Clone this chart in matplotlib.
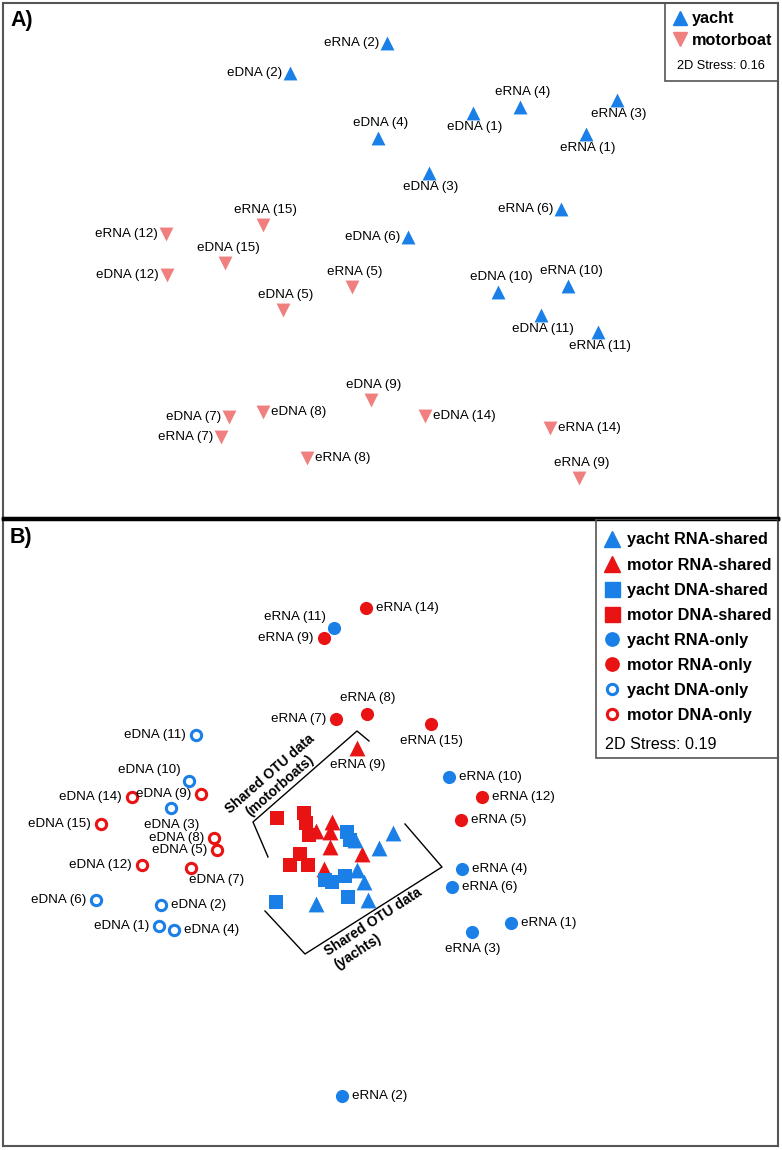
import matplotlib
matplotlib.use('Agg')
import matplotlib.pyplot as plt
from matplotlib.lines import Line2D
from matplotlib.patches import Rectangle

plt.rcParams['font.family'] = ['Liberation Sans', 'DejaVu Sans']

BLUE = '#1a80e8'
PINK = '#f08080'
RED = '#ea1313'
EDGE = '#555555'

## Panel A - ordination positions (pixel units, y down)
a_yacht_lab = ['eRNA (2)', 'eDNA (2)', 'eDNA (4)', 'eDNA (1)', 'eRNA (4)', 'eRNA (3)', 'eRNA (1)',
               'eDNA (3)', 'eRNA (6)', 'eDNA (6)', 'eDNA (10)', 'eRNA (10)', 'eDNA (11)', 'eRNA (11)']
a_yacht_x = [387, 290, 378, 473, 520, 617, 586, 429, 561, 408, 498, 568, 541, 598]
a_yacht_y = [43, 73, 138, 113, 107, 100, 134, 173, 209, 237, 292, 286, 315, 332]
a_yacht_side = ['l', 'l', 't', 'b', 't', 'b', 'b', 'b', 'l', 'l', 't', 't', 'b', 'b']

a_motor_lab = ['eRNA (15)', 'eRNA (12)', 'eDNA (15)', 'eDNA (12)', 'eRNA (5)', 'eDNA (5)', 'eDNA (9)',
               'eDNA (7)', 'eDNA (8)', 'eRNA (7)', 'eRNA (8)', 'eDNA (14)', 'eRNA (14)', 'eRNA (9)']
a_motor_x = [263, 166, 225, 167, 352, 283, 371, 229, 263, 221, 307, 425, 550, 579]
a_motor_y = [225, 234, 263, 275, 287, 310, 400, 417, 412, 437, 458, 416, 428, 478]
a_motor_side = ['t', 'l', 't', 'l', 't', 't', 't', 'l', 'r', 'l', 'r', 'r', 'r', 't']

## Panel B
# shared OTU data (only one point labelled)
b_ms_rna_lab = ['eRNA (9)', '', '', '', '', '', '']
b_ms_rna_x = [357, 316, 332, 330, 330, 362, 324]
b_ms_rna_y = [748, 831, 822, 832, 847, 854, 869]
b_ms_rna_side = ['b', '', '', '', '', '', '']

b_ys_rna_x = [355, 393, 379, 357, 364, 316, 368]
b_ys_rna_y = [840, 833, 848, 870, 882, 904, 900]

b_ys_dna_x = [347, 350, 325, 332, 345, 348, 276]
b_ys_dna_y = [832, 840, 880, 882, 876, 897, 902]

b_ms_dna_x = [277, 304, 306, 309, 300, 290, 308]
b_ms_dna_y = [818, 813, 823, 835, 854, 865, 865]

# RNA-only
b_yo_rna_lab = ['eRNA (11)', 'eRNA (10)', 'eRNA (4)', 'eRNA (6)', 'eRNA (1)', 'eRNA (3)', 'eRNA (2)']
b_yo_rna_x = [334, 449, 462, 452, 511, 472, 342]
b_yo_rna_y = [628, 777, 869, 887, 923, 932, 1096]
b_yo_rna_side = ['tl', 'r', 'r', 'r', 'r', 'b', 'r']

b_mo_rna_lab = ['eRNA (14)', 'eRNA (9)', 'eRNA (7)', 'eRNA (8)', 'eRNA (15)', 'eRNA (12)', 'eRNA (5)']
b_mo_rna_x = [366, 324, 336, 367, 431, 482, 461]
b_mo_rna_y = [608, 638, 719, 714, 724, 797, 820]
b_mo_rna_side = ['r', 'l', 'l', 't', 'b', 'r', 'r']

# DNA-only
b_yo_dna_lab = ['eDNA (11)', 'eDNA (10)', 'eDNA (3)', 'eDNA (6)', 'eDNA (2)', 'eDNA (1)', 'eDNA (4)']
b_yo_dna_x = [196, 189, 171, 96, 161, 159, 174]
b_yo_dna_y = [735, 781, 808, 900, 905, 926, 930]
b_yo_dna_side = ['l', 'tl', 'b', 'l', 'r', 'l', 'r']

b_mo_dna_lab = ['eDNA (14)', 'eDNA (9)', 'eDNA (15)', 'eDNA (8)', 'eDNA (5)', 'eDNA (12)', 'eDNA (7)']
b_mo_dna_x = [132, 201, 101, 214, 217, 142, 191]
b_mo_dna_y = [797, 794, 824, 838, 850, 865, 868]
b_mo_dna_side = ['l', 'l', 'l', 'l', 'l', 'l', 'br']

# brackets around the shared groups
motor_bracket = [(268, 857), (253, 822), (357, 731), (369, 741)]
yacht_bracket = [(265, 911), (305, 954), (442, 867), (405, 824)]


# label offsets (dx, dy in pixels, y down) and horizontal alignment
OFFS_A = {'l': (-8, 0, 'right'), 'r': (8, 0, 'left'), 't': (3, -15, 'center'), 'b': (2, 14, 'center')}
OFFS_B = {'l': (-10, 0, 'right'), 'r': (10, 0, 'left'), 't': (1, -16, 'center'), 'b': (1, 17, 'center'),
          'tl': (-8, -11, 'right'), 'br': (-2, 12, 'left')}


def label_points(ax, xs, ys, labels, sides, offs):
    for x, y, lab, s in zip(xs, ys, labels, sides):
        if not lab:
            continue
        dx, dy, ha = offs[s]
        ax.annotate(lab, (x, y), xytext=(dx, -dy), textcoords='offset pixels',
                    ha=ha, va='center', fontsize=9.6)


def style_axes(ax):
    ax.set_xticks([])
    ax.set_yticks([])
    for sp in ax.spines.values():
        sp.set_color(EDGE)
        sp.set_linewidth(1.5)


fig = plt.figure(figsize=(7.82, 11.5), dpi=100)
W, H = 782.0, 1150.0
axA = fig.add_axes([3 / W, 1 - 518 / H, 775 / W, 515 / H])
axB = fig.add_axes([3 / W, 1 - 1146 / H, 775 / W, 627 / H])

## Panel A
axA.set_xlim(3, 778)
axA.set_ylim(518, 3)
style_axes(axA)
axA.spines['bottom'].set_color('black')
axA.spines['bottom'].set_linewidth(2.5)

axA.scatter(a_yacht_x, a_yacht_y, marker='^', s=100, color=BLUE, linewidths=0, zorder=3)
axA.scatter(a_motor_x, a_motor_y, marker='v', s=100, color=PINK, linewidths=0, zorder=3)
label_points(axA, a_yacht_x, a_yacht_y, a_yacht_lab, a_yacht_side, OFFS_A)
label_points(axA, a_motor_x, a_motor_y, a_motor_lab, a_motor_side, OFFS_A)

axA.text(10, 21, 'A)', fontsize=15.5, fontweight='bold', va='center', ha='left')

handles_a = [Line2D([], [], marker='^', ls='none', color=BLUE, ms=9.6, label='yacht'),
             Line2D([], [], marker='v', ls='none', color=PINK, ms=9.6, label='motorboat')]
axA.legend(handles=handles_a, loc='upper left', bbox_to_anchor=(672, 11.5),
           bbox_transform=axA.transData, frameon=False, borderpad=0, borderaxespad=0,
           handlelength=1.0, handletextpad=0.24, labelspacing=0.40,
           prop={'weight': 'bold', 'size': 11.7})
axA.add_patch(Rectangle((665, 3), 113, 78, fill=False, edgecolor=EDGE, lw=1.2, zorder=5))
axA.text(677, 66, '2D Stress: 0.16', fontsize=9.2, va='center', ha='left')

## Panel B
axB.set_xlim(3, 778)
axB.set_ylim(1146, 519)
style_axes(axB)
axB.spines['top'].set_color('black')
axB.spines['top'].set_linewidth(2.5)

axB.scatter(b_ms_dna_x, b_ms_dna_y, marker='s', s=100, color=RED, linewidths=0, zorder=3)
axB.scatter(b_ms_rna_x, b_ms_rna_y, marker='^', s=130, color=RED, linewidths=0, zorder=3)
axB.scatter(b_ys_dna_x, b_ys_dna_y, marker='s', s=100, color=BLUE, linewidths=0, zorder=3)
axB.scatter(b_ys_rna_x, b_ys_rna_y, marker='^', s=130, color=BLUE, linewidths=0, zorder=3)
axB.scatter(b_yo_rna_x, b_yo_rna_y, marker='o', s=90, color=BLUE, linewidths=0, zorder=3)
axB.scatter(b_mo_rna_x, b_mo_rna_y, marker='o', s=90, color=RED, linewidths=0, zorder=3)
axB.scatter(b_yo_dna_x, b_yo_dna_y, marker='o', s=55, facecolors='white', edgecolors=BLUE,
            linewidths=2.2, zorder=3)
axB.scatter(b_mo_dna_x, b_mo_dna_y, marker='o', s=55, facecolors='white', edgecolors=RED,
            linewidths=2.2, zorder=3)

label_points(axB, b_ms_rna_x, b_ms_rna_y, b_ms_rna_lab, b_ms_rna_side, OFFS_B)
label_points(axB, b_yo_rna_x, b_yo_rna_y, b_yo_rna_lab, b_yo_rna_side, OFFS_B)
label_points(axB, b_mo_rna_x, b_mo_rna_y, b_mo_rna_lab, b_mo_rna_side, OFFS_B)
label_points(axB, b_yo_dna_x, b_yo_dna_y, b_yo_dna_lab, b_yo_dna_side, OFFS_B)
label_points(axB, b_mo_dna_x, b_mo_dna_y, b_mo_dna_lab, b_mo_dna_side, OFFS_B)

for br in (motor_bracket, yacht_bracket):
    axB.plot([p[0] for p in br], [p[1] for p in br], color='black', lw=1.0, zorder=2)
axB.text(275, 780, 'Shared OTU data\n(motorboats)', rotation=41, rotation_mode='anchor',
         ha='center', va='center', multialignment='center', fontsize=10, fontweight='bold')
axB.text(378, 929, 'Shared OTU data\n(yachts)', rotation=33, rotation_mode='anchor',
         ha='center', va='center', multialignment='left', fontsize=10, fontweight='bold')

axB.text(10, 538, 'B)', fontsize=15.5, fontweight='bold', va='center', ha='left')

handles_b = [
    Line2D([], [], marker='^', ls='none', color=BLUE, ms=12, label='yacht RNA-shared'),
    Line2D([], [], marker='^', ls='none', color=RED, ms=12, label='motor RNA-shared'),
    Line2D([], [], marker='s', ls='none', color=BLUE, ms=10.8, label='yacht DNA-shared'),
    Line2D([], [], marker='s', ls='none', color=RED, ms=10.8, label='motor DNA-shared'),
    Line2D([], [], marker='o', ls='none', color=BLUE, ms=9.6, label='yacht RNA-only'),
    Line2D([], [], marker='o', ls='none', color=RED, ms=9.6, label='motor RNA-only'),
    Line2D([], [], marker='o', ls='none', mec=BLUE, mfc='white', mew=2.2, ms=7.4, label='yacht DNA-only'),
    Line2D([], [], marker='o', ls='none', mec=RED, mfc='white', mew=2.2, ms=7.4, label='motor DNA-only'),
]
axB.legend(handles=handles_b, loc='upper left', bbox_to_anchor=(604, 532.5),
           bbox_transform=axB.transData, frameon=False, borderpad=0, borderaxespad=0,
           handlelength=1.0, handletextpad=0.42, labelspacing=0.62,
           prop={'weight': 'bold', 'size': 11.7})
axB.add_patch(Rectangle((596, 519), 182, 239, fill=False, edgecolor=EDGE, lw=1.2, zorder=5))
axB.text(605, 745, '2D Stress: 0.19', fontsize=11.6, va='center', ha='left')

fig.savefig('out.png', dpi=100)
